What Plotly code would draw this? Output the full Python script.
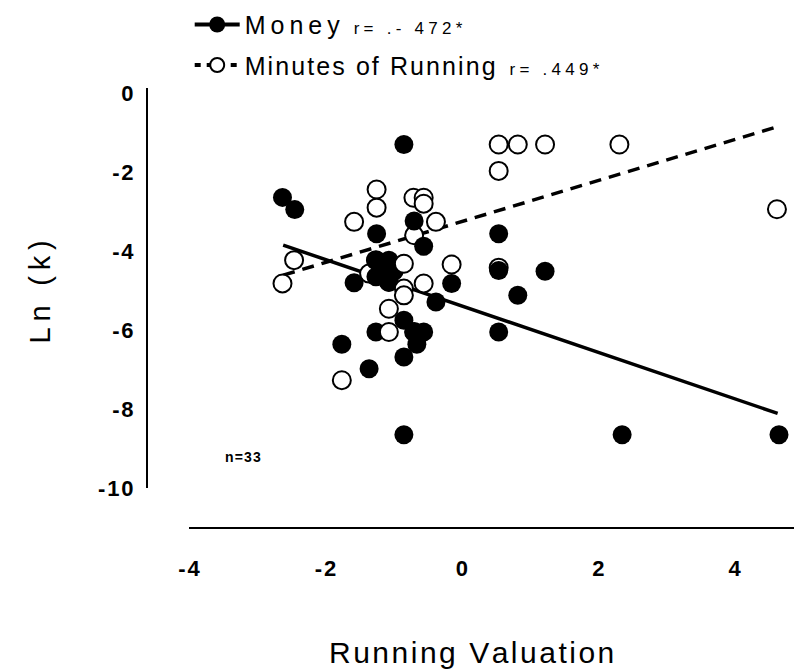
import plotly.graph_objects as go

# ---------------- data ----------------
money_x = [-0.85, -2.63, -2.45, -1.25, -0.70, -0.56, 0.54, -1.58, -1.26, -1.07,
           -1.26, -1.07, -1.15, -0.15, 0.54, 0.82, -0.38, -0.85, -1.26, -0.70,
           -0.56, -0.66, -1.76, -1.36, -0.85, -0.85, 2.35, 4.65, 0.54, 1.22,
           -1.20, -1.00, -1.15]
money_y = [-1.30, -2.64, -2.95, -3.56, -3.24, -3.88, -3.56, -4.80, -4.23, -4.23,
           -4.65, -4.78, -4.45, -4.82, -4.49, -5.12, -5.29, -5.75, -6.05, -6.05,
           -6.05, -6.36, -6.36, -6.98, -6.68, -8.65, -8.65, -8.65, -6.05, -4.51,
           -4.60, -4.50, -4.30]

run_x = [0.54, 0.82, 1.22, 2.31, 0.54, 4.62, -1.25, -1.25, -1.58, -0.71,
         -0.56, -0.56, -0.38, -0.70, -2.46, -2.63, -0.85, -1.36, -0.85, -0.85,
         -0.56, -0.15, 0.54, -1.07, -1.07, -1.76, -1.15, -1.20, -1.00, -1.15,
         -1.26, -1.07, -0.70]
run_y = [-1.30, -1.30, -1.30, -1.30, -1.97, -2.94, -2.44, -2.90, -3.26, -2.65,
         -2.65, -2.80, -3.26, -3.60, -4.23, -4.82, -4.32, -4.57, -4.95, -5.12,
         -4.82, -4.34, -4.42, -5.46, -6.05, -7.27, -4.45, -4.60, -4.50, -4.30,
         -4.23, -4.78, -6.05]

fit_x = [-2.62, 4.63]
money_fit_y = [-3.85, -8.11]
run_fit_y = [-4.61, -0.85]

x_ticks = [-4, -2, 0, 2, 4]
y_ticks = [0, -2, -4, -6, -8, -10]

money_label = "Money"
money_r = "r= .- 472*"
run_label = "Minutes of Running"
run_r = "r= .449*"
x_title = "Running Valuation"
y_title = "Ln (k)"
n_label = "n=33"

# drawing order: these open circles sit beneath the filled ones
run_under_idx = [13, 17, 22, 26, 27, 28, 29, 30, 31, 32]

# ---------------- helpers ----------------
TS = "\u2009"  # thin space
HS = "\u200a"  # hair space
QS = "\u2005"  # four-per-em space
NB = "\u00a0"


def spaced(s, sp=TS):
    return sp.join(s)


FONT = "Arial, Liberation Sans, sans-serif"

under = set(run_under_idx)
rux = [run_x[i] for i in range(len(run_x)) if i in under]
ruy = [run_y[i] for i in range(len(run_y)) if i in under]
rox = [run_x[i] for i in range(len(run_x)) if i not in under]
roy = [run_y[i] for i in range(len(run_y)) if i not in under]

fig = go.Figure()

# regression lines
fig.add_trace(go.Scatter(x=fit_x, y=money_fit_y, mode="lines",
                         line=dict(color="black", width=3.5),
                         showlegend=False, hoverinfo="skip"))
fig.add_trace(go.Scatter(x=fit_x, y=run_fit_y, mode="lines",
                         line=dict(color="black", width=3.5, dash="12px,8px"),
                         showlegend=False, hoverinfo="skip"))

open_marker = dict(symbol="circle", size=18, color="white",
                   line=dict(color="black", width=2))
fig.add_trace(go.Scatter(x=rux, y=ruy, mode="markers", marker=open_marker,
                         showlegend=False))
fig.add_trace(go.Scatter(x=money_x, y=money_y, mode="markers",
                         marker=dict(symbol="circle", size=19, color="black",
                                     line=dict(color="black", width=0)),
                         showlegend=False))
fig.add_trace(go.Scatter(x=rox, y=roy, mode="markers", marker=open_marker,
                         showlegend=False))

# legend entries
fig.add_trace(go.Scatter(
    x=[None], y=[None], mode="lines+markers",
    line=dict(color="black", width=4),
    marker=dict(symbol="circle", size=16, color="black"),
    name=spaced(money_label) + NB + NB + "<span style='font-size:17px'>"
    + spaced(money_r, QS) + "</span>",
    legendgroup="a"))
fig.add_trace(go.Scatter(
    x=[None], y=[None], mode="lines+markers",
    line=dict(color="black", width=4, dash="6px,6px"),
    marker=dict(symbol="circle", size=14, color="white",
                line=dict(color="black", width=2)),
    name=spaced(run_label, HS) + NB + NB + "<span style='font-size:17px'>"
    + spaced(run_r, QS) + "</span>",
    legendgroup="b"))

fig.add_annotation(x=-3.21, y=-9.22, xref="x", yref="y",
                   text=spaced(n_label, HS),
                   showarrow=False,
                   font=dict(family=FONT, size=14, color="black", weight="bold"))

# axis titles
fig.add_annotation(x=0.502, y=-0.282, xref="paper", yref="paper",
                   xanchor="center", yanchor="middle", showarrow=False,
                   text=spaced(x_title, HS),
                   font=dict(family=FONT, size=30, color="black"))
fig.add_annotation(x=-0.165, y=0.536, xref="paper", yref="paper",
                   xanchor="center", yanchor="middle", showarrow=False,
                   textangle=-90, text=spaced(y_title, TS),
                   font=dict(family=FONT, size=29, color="black"))

tickfont = dict(family=FONT, size=22, color="black", weight="bold")

fig.update_layout(
    width=794, height=669,
    margin=dict(l=147, r=0, t=88, b=141),
    paper_bgcolor="white", plot_bgcolor="white",
    font=dict(family=FONT, color="black"),
    showlegend=True,
    legend=dict(x=0.066, y=1.196, xanchor="left", yanchor="top",
                font=dict(family=FONT, size=25, color="black"),
                itemwidth=45, tracegroupgap=5, traceorder="grouped",
                bgcolor="rgba(0,0,0,0)"),
    xaxis=dict(range=[-4, 4.87], domain=[0.065, 1], anchor="free", position=0,
               showgrid=False, zeroline=False, showline=True, linecolor="black", linewidth=2,
               ticks="outside", ticklen=21, tickcolor="rgba(0,0,0,0)",
               tickvals=x_ticks,
               ticktext=[spaced(str(v), HS) for v in x_ticks],
               tickfont=tickfont),
    yaxis=dict(range=[-10, 0.13], domain=[0.0909, 1], anchor="free", position=0,
               showgrid=False, zeroline=False, showline=True, linecolor="black", linewidth=2,
               ticks="outside", ticklen=8, tickcolor="rgba(0,0,0,0)",
               tickvals=y_ticks,
               ticktext=[spaced(str(v), HS) for v in y_ticks],
               tickfont=tickfont),
)

fig.write_html("out.html")
